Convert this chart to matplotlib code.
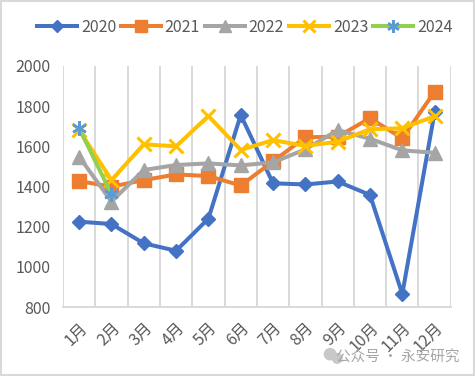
import matplotlib
matplotlib.use("Agg")
import matplotlib.pyplot as plt
from matplotlib.patches import Rectangle, Ellipse

plt.rcParams['font.family'] = ['Noto Sans CJK SC', 'DejaVu Sans']

months = ["1月", "2月", "3月", "4月", "5月", "6月", "7月", "8月", "9月", "10月", "11月", "12月"]
years = ["2020", "2021", "2022", "2023", "2024"]
s2020 = [1225, 1213, 1117, 1080, 1240, 1756, 1416, 1410, 1425, 1358, 865, 1770]
s2021 = [1427, 1399, 1432, 1460, 1452, 1405, 1525, 1645, 1648, 1740, 1640, 1872]
s2022 = [1548, 1325, 1482, 1507, 1515, 1505, 1520, 1585, 1680, 1638, 1580, 1568]
s2023 = [1681, 1432, 1610, 1600, 1751, 1582, 1631, 1602, 1623, 1685, 1690, 1750]
s2024 = [1690, 1362]
yticks = [800, 1000, 1200, 1400, 1600, 1800, 2000]

fig = plt.figure(figsize=(4.75, 3.76), dpi=100)
fig.patches.append(Rectangle((0.003, 0.003), 0.994, 0.994, transform=fig.transFigure,
                             fill=False, edgecolor='#d9d9d9', linewidth=1.5))
ax = fig.add_axes([0.1326, 0.1835, 0.8164, 0.641])

x = list(range(len(months)))
lw = 2.9
ax.plot(x, s2020, color='#4472C4', lw=lw, marker='D', ms=7.5, label='2020', zorder=3)
ax.plot(x, s2021, color='#ED7D31', lw=lw, marker='s', ms=10.5, label='2021', zorder=3)
ax.plot(x, s2022, color='#A5A5A5', lw=lw, marker='^', ms=10.5, label='2022', zorder=3)
ax.plot(x, s2023, color='#FFC000', lw=lw, marker='x', ms=9.5, mew=2.2, label='2023', zorder=3)
ax.plot(x[:len(s2024)], s2024, color='#92D050', lw=lw, marker=(6, 2, 0), ms=10.5, mew=1.8,
        mec='#5B9BD5', label='2024', zorder=4)

ax.set_xlim(-0.5, 11.5)
ax.set_ylim(800, 2000)
ax.set_yticks(yticks)
ax.set_yticklabels([str(v) for v in yticks])
ax.set_xticks(x)
ax.set_xticklabels(months, rotation=45, ha='right', rotation_mode='anchor', fontsize=11.5)
ax.set_xticks([i - 0.5 for i in range(13)], minor=True)
ax.grid(True, which='minor', axis='x', color='#d9d9d9', lw=1.4)
ax.tick_params(axis='both', which='both', length=0, colors='#595959', labelsize=11.5)
ax.tick_params(axis='x', pad=9)
ax.tick_params(axis='y', pad=9)
for s in ['top', 'right', 'left']:
    ax.spines[s].set_visible(False)
ax.spines['bottom'].set_color('#d9d9d9')
ax.spines['bottom'].set_linewidth(1.4)

leg = fig.legend(loc='center', bbox_to_anchor=(0.515, 0.928), ncol=5, frameon=False,
                 fontsize=11.5, handlelength=2.5, handletextpad=0.25, columnspacing=0.3,
                 labelcolor='#595959', markerscale=0.85)

fig.patches.append(Ellipse((0.695, 0.058), 0.024, 0.03, transform=fig.transFigure,
                           color='#c8c8c8', zorder=0))
fig.patches.append(Ellipse((0.71, 0.047), 0.02, 0.026, transform=fig.transFigure,
                           color='#c8c8c8', zorder=0))
fig.text(0.968, 0.05, "公众号 · 永安研究", ha='right', va='center', color='#a6a6a6', fontsize=10.5,
         zorder=0)

fig.savefig('out.png', dpi=100)
